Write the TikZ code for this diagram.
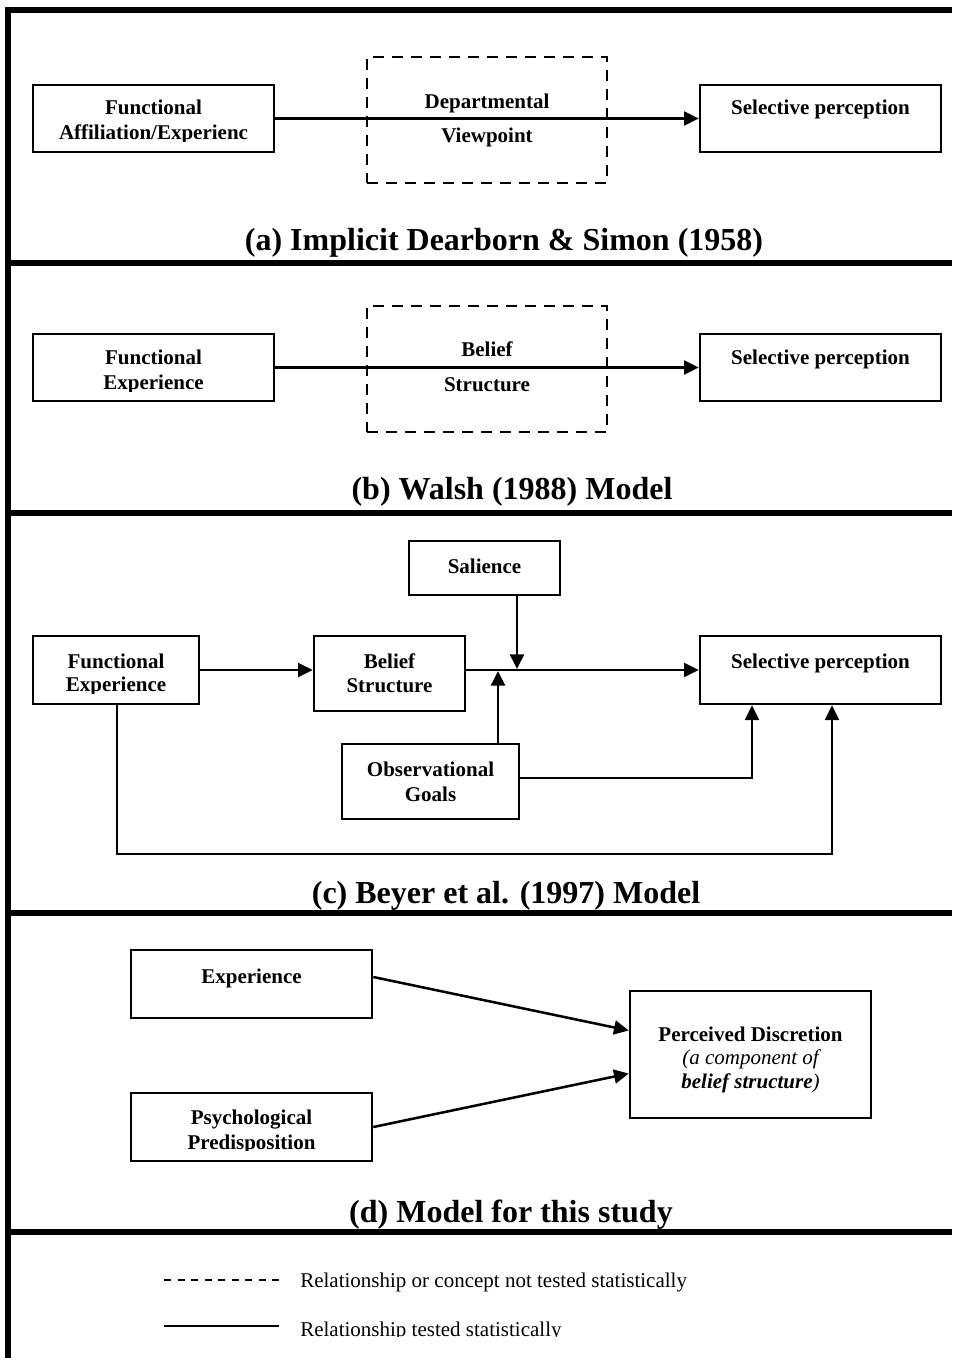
\documentclass[tikz,border=0pt]{standalone}
\usepackage{fontspec}
\setmainfont{Liberation Serif}
\usetikzlibrary{arrows.meta,fit,calc}
\begin{document}
\begin{tikzpicture}[x=0.75pt,y=-0.75pt,
  rule/.style={line width=4.5pt},
  box/.style={draw,line width=2pt,inner sep=0pt},
  dbox/.style={draw,line width=1.6pt,dash pattern=on 8.25pt off 6pt,inner sep=0pt},
  lbl/.style={font=\fontsize{15.75}{18}\selectfont\bfseries,inner sep=0pt,anchor=base},
  ttl/.style={font=\fontsize{24}{28}\selectfont\bfseries,inner sep=0pt,anchor=base},
  leg/.style={font=\fontsize{15.75}{18}\selectfont,inner sep=0pt,anchor=base west},
  conn/.style={line width=1.9pt,-{Triangle[length=11pt,width=10.5pt]}},
]
\useasboundingbox (0,0) rectangle (952,1358);

% outer frame and panel separators
\draw[rule] (8,1358) -- (8,10) -- (952,10);
\foreach \y in {263,513,913,1232} \draw[rule] (5,\y) -- (952,\y);

% ---------- (a) ----------
\node[box,fit={(33,85)(274,152)}] (aF) {};
\node[dbox,fit={(367,57)(607,183)}] (aD) {};
\node[box,fit={(700,85)(941,152)}] (aS) {};
\node[lbl] (aF1) at (aF.center |- 0,115) {Functional};
\begin{scope}
  \clip (0,120) rectangle (952,142);
  \node[lbl] (aF2) at (aF.center |- 0,140) {Affiliation/Experienc};
\end{scope}
\node[lbl] (aD1) at (aD.center |- 0,109) {Departmental};
\node[lbl] (aD2) at (aD.center |- 0,143) {Viewpoint};
\node[lbl] (aS1) at (aS.center |- 0,115) {Selective perception};
\draw[conn] (aF.east) -- (aS.west);
\node[ttl] (aT) at (504,251) {(a) Implicit Dearborn \& Simon (1958)};

% ---------- (b) ----------
\node[box,fit={(33,334)(274,401)}] (bF) {};
\node[dbox,fit={(367,306)(607,432)}] (bD) {};
\node[box,fit={(700,334)(941,401)}] (bS) {};
\node[lbl] (bF1) at (bF.center |- 0,364) {Functional};
\begin{scope}
  \clip (0,370) rectangle (952,391);
  \node[lbl] (bF2) at (bF.center |- 0,389) {Experience};
\end{scope}
\node[lbl] (bD1) at (bD.center |- 0,357) {Belief};
\node[lbl] (bD2) at (bD.center |- 0,392) {Structure};
\node[lbl] (bS1) at (bS.center |- 0,364) {Selective perception};
\draw[conn] (bF.east) -- (bS.west);
\node[ttl] (bT) at (512,499) {(b) Walsh (1988) Model};

% ---------- (c) ----------
\node[box,fit={(409,541)(560,595)}] (cSal) {};
\node[box,fit={(33,636)(199,704)}] (cF) {};
\node[box,fit={(314,636)(465,711)}] (cB) {};
\node[box,fit={(700,636)(941,704)}] (cS) {};
\node[box,fit={(342,744)(519,819)}] (cO) {};
\node[lbl] (cSal1) at (cSal.center |- 0,573) {Salience};
\node[lbl] (cF1) at (cF.center |- 0,668) {Functional};
\begin{scope}
  \clip (0,674) rectangle (952,693);
  \node[lbl] (cF2) at (cF.center |- 0,691) {Experience};
\end{scope}
\node[lbl] (cB1) at (cB.center |- 0,668) {Belief};
\node[lbl] (cB2) at (cB.center |- 0,692) {Structure};
\node[lbl] (cS1) at (cS.center |- 0,668) {Selective perception};
\node[lbl] (cO1) at (cO.center |- 0,776) {Observational};
\node[lbl] (cO2) at (cO.center |- 0,801) {Goals};

\draw[conn] (cF.east) -- (cF.east -| cB.west);
\draw[conn] (cB.east |- cS.west) -- (cS.west);
\coordinate (jS) at (517,669);
\draw[conn] (jS |- cSal.south) -- (jS);
\coordinate (jO) at (498,671);
\draw[conn] (jO |- cO.north) -- (jO);
\coordinate (kO) at (752,778);
\draw[conn] (cO.east |- kO) -- (kO) -- (kO |- cS.south);
\coordinate (kF1) at (117,854);
\coordinate (kF2) at (832,854);
\draw[conn] (kF1 |- cF.south) -- (kF1) -- (kF2) -- (kF2 |- cS.south);
\node[ttl] (cT) at (506,903) {(c) Beyer et al. (1997) Model};

% ---------- (d) ----------
\node[box,fit={(131,950)(372,1018)}] (dE) {};
\node[box,fit={(131,1093)(372,1161)}] (dP) {};
\node[box,fit={(630,991)(871,1118)}] (dD) {};
\node[lbl] (dE1) at (dE.center |- 0,983) {Experience};
\node[lbl] (dP1) at (dP.center |- 0,1124) {Psychological};
\begin{scope}
  \clip (0,1130) rectangle (952,1150);
  \node[lbl] (dP2) at (dP.center |- 0,1149) {Predisposition};
\end{scope}
\node[lbl] (dD1) at (dD.center |- 0,1041) {Perceived Discretion};
\node[lbl,font=\fontsize{15.75}{18}\selectfont\itshape] (dD2) at (dD.center |- 0,1064) {(a component of};
\node[lbl] (dD3) at (dD.center |- 0,1088) {\textit{belief structure}\textmd{\textit{)}}};
\draw[conn] ($(dE.east)+(0,-7)$) -- ($(dD.west)+(0,-24)$);
\draw[conn] (dP.east) -- ($(dD.west)+(0,19)$);
\node[ttl] (dT) at (511,1222) {(d) Model for this study};

% ---------- legend ----------
\coordinate (l1a) at (164,1280);
\coordinate (l1b) at (279,1280);
\draw[line width=1.5pt,dash pattern=on 5.25pt off 4.9pt] (l1a) -- (l1b);
\node[leg] (l1t) at (300,1287) {Relationship or concept not tested statistically};
\coordinate (l2a) at (164,1326);
\coordinate (l2b) at (279,1326);
\draw[line width=2.2pt] (l2a) -- (l2b);
\begin{scope}
  \clip (0,1310) rectangle (952,1336);
  \node[leg] (l2t) at (300,1336) {Relationship tested statistically};
\end{scope}
\end{tikzpicture}
\end{document}
